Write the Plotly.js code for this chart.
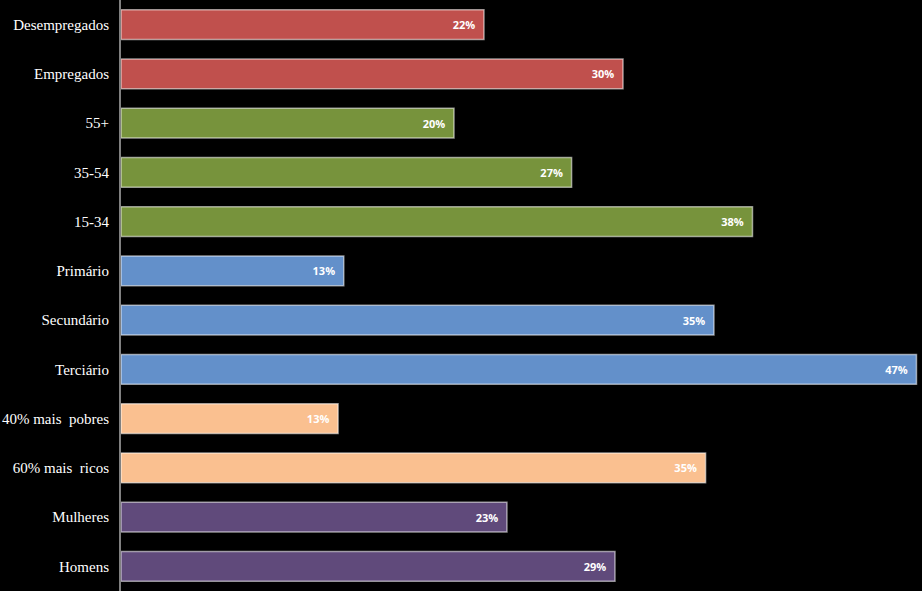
<!DOCTYPE html>
<html>
<head>
<meta charset="utf-8">
<script src="https://cdn.plot.ly/plotly-3.0.1.min.js"></script>
<style>html,body{margin:0;padding:0;background:#000;}#chart{width:922px;height:591px;}</style>
</head>
<body>
<div id="chart"></div>
<script>
const categories = ["Desempregados","Empregados","55+","35-54","15-34","Primário","Secundário","Terciário","40% mais  pobres","60% mais  ricos","Mulheres","Homens"];
const values = [0.2167, 0.2997, 0.1988, 0.2690, 0.3770, 0.1330, 0.3540, 0.4749, 0.1296, 0.3490, 0.2304, 0.2949];
const barColors = ["#C0504D","#C0504D","#77933C","#77933C","#77933C","#6390CA","#6390CA","#6390CA","#FAC090","#FAC090","#604A7B","#604A7B"];

const trace = {
  type: 'bar',
  orientation: 'h',
  y: categories,
  x: values,
  width: 0.6,
  marker: {color: barColors, line: {color: 'rgba(255,255,255,0.55)', width: 1.5}},
  texttemplate: '%{x:.0%}\u00a0\u00a0',
  textposition: 'inside',
  insidetextanchor: 'end',
  textangle: 0,
  constraintext: 'none',
  textfont: {family: 'Open Sans, sans-serif', size: 11, color: '#FFFFFF', weight: 'bold'},
  hoverinfo: 'none'
};

const layout = {
  width: 922, height: 591,
  paper_bgcolor: '#000000', plot_bgcolor: '#000000',
  margin: {l: 121, r: 1, t: 0, b: 0},
  showlegend: false,
  bargap: 0.4,
  xaxis: {range: [0, 0.4776], visible: false, fixedrange: true},
  yaxis: {
    type: 'category', categoryorder: 'array', categoryarray: categories,
    autorange: 'reversed',
    showline: true, linecolor: '#808080', linewidth: 2,
    ticks: '', ticklabelstandoff: 7,
    showgrid: false, zeroline: false,
    tickfont: {family: 'Liberation Serif, serif', size: 15, color: '#FFFFFF'}
  }
};

Plotly.newPlot('chart', [trace], layout, {displayModeBar: false, staticPlot: true});
</script>
</body>
</html>
